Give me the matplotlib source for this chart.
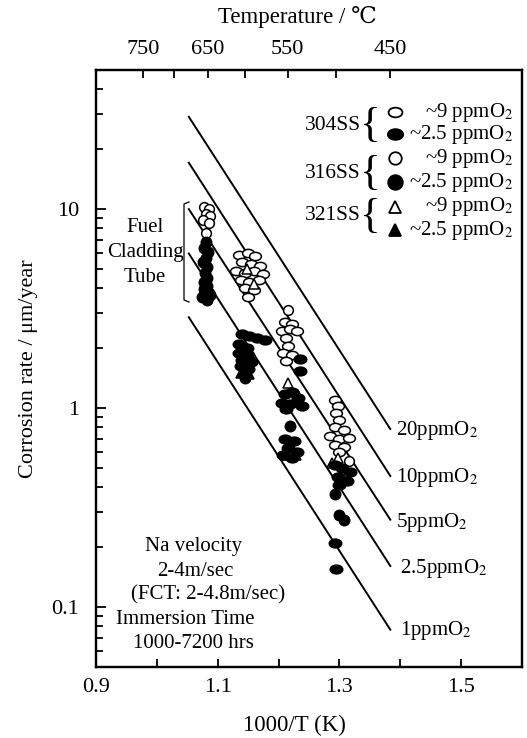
import numpy as np
import matplotlib.pyplot as plt
from matplotlib.path import Path
from matplotlib.transforms import Affine2D

plt.rcParams['font.family'] = ['Liberation Serif', 'DejaVu Serif']
plt.rcParams['mathtext.fontset'] = 'stix'

# iso-oxygen lines: 1000/T at both ends and rate at both ends
o2_labels = ['20', '10', '5', '2.5', '1']
line_x = [1.0525, 1.3836]
line_start = [29.1, 17.1, 10.0, 5.98, 2.86]
line_end = [0.785, 0.456, 0.275, 0.161, 0.077]

# 304SS ~9 ppm O2 (open ellipses)
ss304_hi_x = [1.135, 1.150, 1.162, 1.140, 1.155, 1.170, 1.130, 1.145, 1.160, 1.175, 1.138, 1.152,
              1.168, 1.145, 1.160, 1.150,
              1.210, 1.222, 1.205, 1.218, 1.230, 1.212, 1.215, 1.208, 1.222, 1.212,
              1.292, 1.298, 1.294, 1.300, 1.292, 1.308, 1.285, 1.300, 1.315, 1.292, 1.308, 1.300]
ss304_hi_y = [5.9, 6.0, 5.8, 5.4, 5.3, 5.2, 4.9, 4.8, 4.9, 4.7, 4.4, 4.3,
              4.4, 4.0, 3.9, 3.6,
              2.7, 2.65, 2.45, 2.5, 2.45, 2.25, 2.05, 1.9, 1.85, 1.72,
              1.10, 1.02, 0.94, 0.87, 0.80, 0.78, 0.72, 0.70, 0.71, 0.65, 0.64, 0.60]

# 304SS ~2.5 ppm O2 (filled ellipses)
ss304_lo_x = [1.140, 1.152, 1.165, 1.178, 1.135, 1.148, 1.135, 1.150, 1.140, 1.155, 1.138, 1.150,
              1.235, 1.236,
              1.210, 1.222, 1.232, 1.205, 1.218, 1.238, 1.212,
              1.210, 1.225, 1.215, 1.230, 1.208, 1.222,
              1.292, 1.305, 1.318, 1.298, 1.312, 1.300, 1.292, 1.295]
ss304_lo_y = [2.35, 2.3, 2.25, 2.2, 2.1, 2.0, 1.9, 1.85, 1.75, 1.7, 1.62, 1.58,
              1.76, 1.53,
              1.18, 1.20, 1.12, 1.06, 1.05, 1.03, 0.99,
              0.70, 0.68, 0.63, 0.60, 0.58, 0.56,
              0.52, 0.50, 0.48, 0.45, 0.43, 0.41, 0.21, 0.155]

# 316SS ~9 ppm O2 (open circles)
ss316_hi_x = [1.077, 1.086, 1.080, 1.088, 1.076, 1.085, 1.080, 1.215, 1.315]
ss316_hi_y = [10.2, 10.0, 9.5, 9.2, 8.8, 8.5, 7.6, 3.1, 0.54]

# 316SS ~2.5 ppm O2 (filled circles)
ss316_lo_x = [1.080, 1.078, 1.084, 1.080, 1.076, 1.082, 1.079, 1.082, 1.078, 1.083, 1.077, 1.085,
              1.080, 1.075, 1.088, 1.082,
              1.145, 1.218, 1.292, 1.299, 1.308]
ss316_lo_y = [6.8, 6.4, 6.1, 5.7, 5.4, 5.1, 4.8, 4.5, 4.3, 4.1, 3.95, 3.8,
              3.65, 3.6, 3.7, 3.5,
              1.42, 0.81, 0.37, 0.29, 0.275]

# 321SS ~9 ppm O2 (open triangles)
ss321_hi_x = [1.160, 1.148, 1.216, 1.232, 1.298, 1.288]
ss321_hi_y = [4.2, 5.0, 1.33, 1.17, 0.56, 0.53]

# 321SS ~2.5 ppm O2 (filled triangles)
ss321_lo_x = [1.152, 1.138, 1.228, 1.210]
ss321_lo_y = [1.48, 1.50, 0.58, 0.58]

temp_ticks = [750, 700, 650, 600, 550, 500, 450]
temp_labels = ['750', '', '650', '', '550', '', '450']

ellipse = Path.unit_circle().transformed(Affine2D().scale(1.0, 0.7))

fig = plt.figure(figsize=(5.27, 7.38), dpi=100)
ax = fig.add_axes([96 / 527, 71 / 738, 426 / 527, 597 / 738])

for i in range(len(o2_labels)):
    ax.plot(line_x, [line_start[i], line_end[i]], color='black', lw=1.4, zorder=1)

# (x, y, marker, size, filled)
series = [
    (ss304_hi_x, ss304_hi_y, ellipse, 8.5, False),
    (ss316_hi_x, ss316_hi_y, 'o', 7, False),
    (ss321_hi_x, ss321_hi_y, '^', 6.5, False),
    (ss304_lo_x, ss304_lo_y, ellipse, 9, True),
    (ss316_lo_x, ss316_lo_y, 'o', 7.5, True),
    (ss321_lo_x, ss321_lo_y, '^', 6.5, True),
]
for xs, ys, mk, ms, filled in series:
    ax.plot(xs, ys, ls='none', marker=mk, ms=ms, mec='black', mew=1.1,
            mfc='black' if filled else 'white', zorder=3)

label_offsets = [(6, -1), (6, -2), (6, -3), (10, -3), (10, -1)]
for i, lab in enumerate(o2_labels):
    ax.annotate(lab + 'ppmO$_2$', (line_x[1], line_end[i]), xytext=label_offsets[i],
                textcoords='offset pixels', ha='left', va='center', fontsize=15)

ax.set_yscale('log')
ax.set_xlim(0.9, 1.6)
ax.set_ylim(0.05, 50)
ax.set_xticks(np.arange(0.9, 1.61, 0.1))
ax.set_xticklabels(['0.9', '', '1.1', '', '1.3', '', '1.5', ''])
ax.set_yticks([0.1, 1, 10])
ax.set_yticklabels(['0.1', '1', '10'])
ax.tick_params(axis='x', direction='in', length=6, width=1.3, labelsize=16, pad=8)
ax.tick_params(axis='y', which='major', direction='in', length=7, width=1.3, labelsize=16, pad=12)
ax.tick_params(axis='y', which='minor', direction='in', length=5, width=1.3)
ax.tick_params(axis='y', which='both', right=False)
for s in ax.spines.values():
    s.set_linewidth(1.6)
ax.set_xlabel('1000/T (K)', fontsize=16.5, labelpad=13)
ax.xaxis.label.set_x((294 - 96) / 426)
ax.set_ylabel('Corrosion rate / μm/year', fontsize=16, labelpad=10)

top = ax.twiny()
top.set_xlim(ax.get_xlim())
top.set_xticks(1000 / (np.array(temp_ticks) + 273.0))
top.set_xticklabels(temp_labels)
top.tick_params(axis='x', direction='in', length=6, width=1.3, labelsize=16, pad=8)
top.set_xlabel('Temperature / ℃', fontsize=16.5, labelpad=12)
top.xaxis.label.set_x((297 - 96) / 426)
for s in top.spines.values():
    s.set_linewidth(1.6)


def fpos(px, py):
    return px / 527, 1 - py / 738


# legend block
groups = ['304SS', '316SS', '321SS']
group_y = [125, 173, 216]
for g, gy in zip(groups, group_y):
    fig.text(*fpos(361, gy), g, ha='right', va='center', fontsize=15.5)
    fig.text(*fpos(369, gy + 1), '{', ha='center', va='center', fontsize=31,
             fontweight='light')

row_y = [112, 134, 158, 182, 207, 230]
row_text = ['~9 ppmO$_2$', '~2.5 ppmO$_2$'] * 3
row_marker = [ellipse, ellipse, 'o', 'o', '^', '^']
row_ms = [10, 11, 9, 10.5, 8.5, 8.5]
for i in range(6):
    filled = i % 2 == 1
    ax.plot([395 / 527], [1 - row_y[i] / 738], transform=fig.transFigure, clip_on=False,
            ls='none', marker=row_marker[i], ms=row_ms[i], mec='black', mew=1.3,
            mfc='black' if filled else 'white')
    fig.text(*fpos(513, row_y[i]), row_text[i], ha='right', va='center', fontsize=15)

# fuel cladding tube bracket
fig.text(*fpos(145, 228), 'Fuel', ha='center', va='center', fontsize=15)
fig.text(*fpos(145, 253), 'Cladding', ha='center', va='center', fontsize=15)
fig.text(*fpos(145, 277), 'Tube', ha='center', va='center', fontsize=15)
bx = [189 / 527, 184 / 527, 184 / 527, 189 / 527]
by = [1 - 202 / 738, 1 - 204 / 738, 1 - 300 / 738, 1 - 302 / 738]
ax.plot(bx, by, transform=fig.transFigure, clip_on=False, color='black', lw=0.9)

# test conditions
notes = [('Na velocity', 194, 547), ('2-4m/sec', 195, 571), ('(FCT: 2-4.8m/sec)', 208, 595),
         ('Immersion Time', 185, 620), ('1000-7200 hrs', 193, 644)]
for t, px, py in notes:
    fig.text(*fpos(px, py), t, ha='center', va='center', fontsize=15)

fig.savefig('out.png', dpi=100)
